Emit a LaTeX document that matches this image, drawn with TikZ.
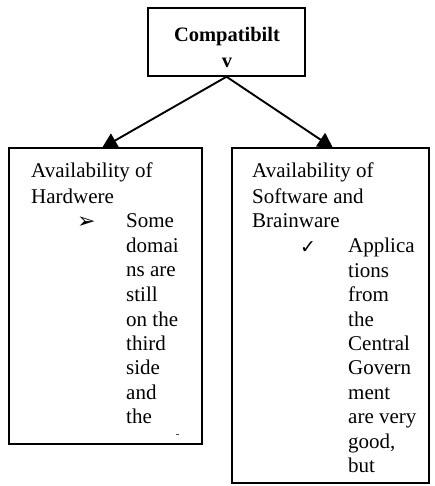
\documentclass[tikz,border=0pt]{standalone}
\usepackage{fontspec}
\setmainfont{Liberation Serif}
\newfontfamily\symfont{DejaVu Sans}
\usetikzlibrary{arrows.meta}
\tikzset{
  box/.style={draw, line width=1.5pt, inner sep=0pt},
  arr/.style={line width=1.9pt, -{Triangle[length=15pt,width=16pt]}},
  txt/.style={inner sep=0pt, anchor=base west, font=\fontsize{21}{25}\selectfont},
  btxt/.style={inner sep=0pt, anchor=base, font=\fontsize{20.5}{25}\selectfont\bfseries},
  bul/.style={inner sep=0pt, anchor=base west}
}
\begin{document}
\begin{tikzpicture}[x=1pt,y=-1pt]
\useasboundingbox (0,0) rectangle (435,486);
% boxes
\node[box, minimum width=157pt, minimum height=68pt] (top) at (226.5,42) {};
\node[box, minimum width=193pt, minimum height=296pt] (lb) at (105.5,296) {};
\node[box, minimum width=197pt, minimum height=335pt] (rb) at (330.5,315.5) {};
% title
\node[btxt] (t1) at (227,42) {Compatibilt};
\node[btxt] (t2) at (227,68) {v};
% arrows
\coordinate (la) at (102,148);
\coordinate (ra) at (333,148);
\draw[arr] (top.south) -- (la);
\draw[arr] (top.south) -- (ra);
% left text
\node[txt] (l1) at (31,178) {Availability of};
\node[txt] (l2) at (31,203) {Hardwere};
\node[bul, font=\symfont\fontsize{22}{24}\selectfont] (lbul) at (77,228) {➢};
\node[txt] (l3) at (126,227) {Some};
\node[txt] (l4) at (126,252) {domai};
\node[txt] (l5) at (126,276) {ns are};
\node[txt] (l6) at (126,301) {still};
\node[txt] (l7) at (126,326) {on the};
\node[txt] (l8) at (126,350) {third};
\node[txt] (l9) at (126,374) {side};
\node[txt] (l10) at (126,399) {and};
\node[txt] (l11) at (126,423) {the};
\node[inner sep=0pt, minimum width=3pt, minimum height=1pt, fill=black!70] (ldash) at (177,434) {};
% right text
\node[txt] (r1) at (252,178) {Availability of};
\node[txt] (r2) at (252,203) {Software and};
\node[txt] (r3) at (252,227) {Brainware};
\node[bul, font=\symfont\fontsize{19}{21}\selectfont] (rbul) at (300,253) {✓};
\node[txt] (r4) at (348,252) {Applica};
\node[txt] (r5) at (348,277) {tions};
\node[txt] (r6) at (348,301) {from};
\node[txt] (r7) at (348,326) {the};
\node[txt] (r8) at (348,350) {Central};
\node[txt] (r9) at (348,374) {Govern};
\node[txt] (r10) at (348,399) {ment};
\node[txt] (r11) at (348,423) {are very};
\node[txt] (r12) at (348,448) {good,};
\node[txt] (r13) at (348,472) {but};
\end{tikzpicture}
\end{document}
